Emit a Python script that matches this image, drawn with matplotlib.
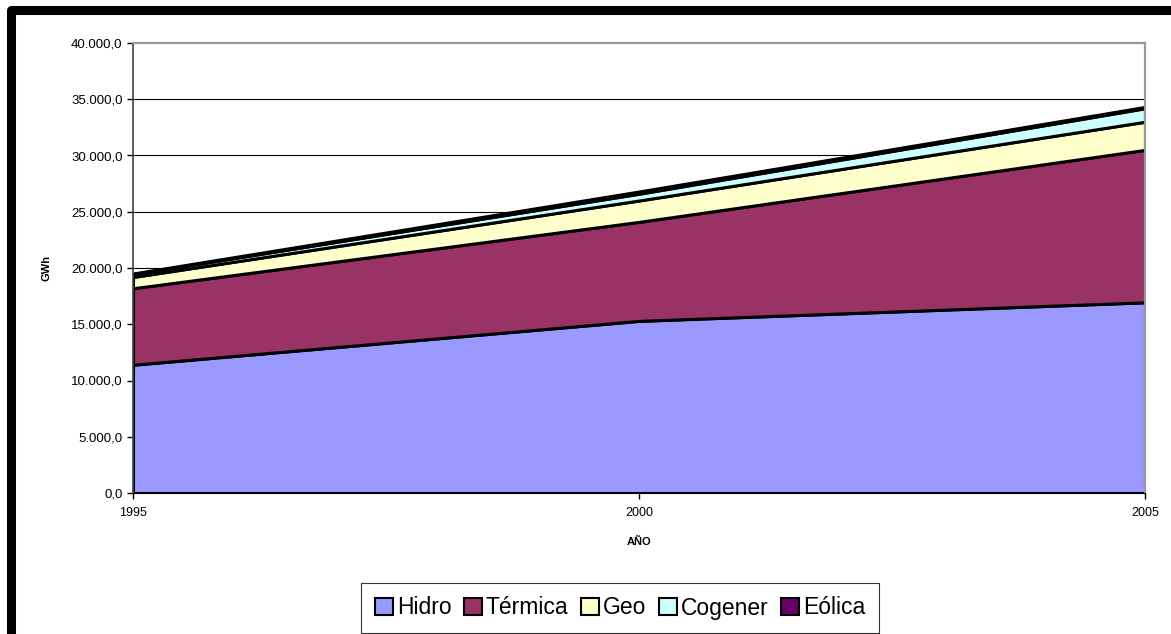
import matplotlib.pyplot as plt
from matplotlib.patches import Patch
from matplotlib.lines import Line2D
from matplotlib.ticker import FuncFormatter

plt.rcParams['font.family'] = ['Liberation Sans', 'DejaVu Sans']

# Data (GWh)
years = [1995, 2000, 2005]
series_names = ['Hidro', 'Térmica', 'Geo', 'Cogener', 'Eólica']
hidro = [11400, 15300, 16950]
termica = [6800, 8800, 13550]
geo = [1000, 1900, 2500]
cogener = [250, 600, 1200]
eolica = [60, 200, 120]
colors = ['#9999FF', '#993366', '#FFFFCC', '#CCFFFF', '#660066']
y_ticks = list(range(0, 40001, 5000))


def es_format(v, pos):
    s = f"{v:,.1f}"
    return s.replace(',', 'X').replace('.', ',').replace('X', '.')


def main():
    W, H = 1171, 634
    fig = plt.figure(figsize=(W / 100, H / 100), dpi=100)
    ax = fig.add_axes([133 / W, 1 - 493 / H, (1145 - 133) / W, 450 / H])

    ax.stackplot(years, hidro, termica, geo, cogener, eolica,
                 colors=colors, edgecolor='black', linewidth=2.2)

    ax.set_xlim(1995, 2005)
    ax.set_ylim(0, 40000)
    ax.set_xticks(years)
    ax.set_yticks(y_ticks)
    ax.yaxis.set_major_formatter(FuncFormatter(es_format))
    ax.tick_params(axis='y', labelsize=9.5, length=4, width=1, direction='out')
    ax.tick_params(axis='x', labelsize=9, length=4, width=1, direction='out', pad=6)

    # horizontal gridlines
    for y in y_ticks[1:-1]:
        ax.axhline(y, color='black', linewidth=0.8, zorder=0)
    ax.set_axisbelow(True)

    for side in ['top', 'right']:
        ax.spines[side].set_color('#999999')
        ax.spines[side].set_linewidth(1.6)
    ax.spines['left'].set_color('#444444')
    ax.spines['bottom'].set_color('black')
    ax.spines['left'].set_linewidth(1.2)

    ax.set_ylabel('GWh', fontsize=8, fontweight='bold', labelpad=14)
    ax.set_xlabel('AÑO', fontsize=8, fontweight='bold', labelpad=13)

    # Legend
    handles = [Patch(facecolor=c, edgecolor='black', linewidth=1.5) for c in colors]
    leg = fig.legend(handles, series_names, loc='center',
                     bbox_to_anchor=(620 / W, 1 - 608 / H), ncol=5,
                     fontsize=16.5, frameon=True, fancybox=False,
                     handlelength=0.8, handleheight=0.8, handletextpad=0.15,
                     columnspacing=0.55, borderpad=0.6)
    leg.get_frame().set_edgecolor('black')
    leg.get_frame().set_linewidth(0.8)

    # Outer black frame (left and top)
    x0 = 10.5 / W
    y0 = 1 - 9.5 / H
    fig.add_artist(Line2D([x0, x0, 1.0], [0.0, y0, y0], color='black',
                          linewidth=6.5, solid_joinstyle='round',
                          transform=fig.transFigure))

    fig.savefig('out.png', dpi=100)


if __name__ == "__main__":
    main()
